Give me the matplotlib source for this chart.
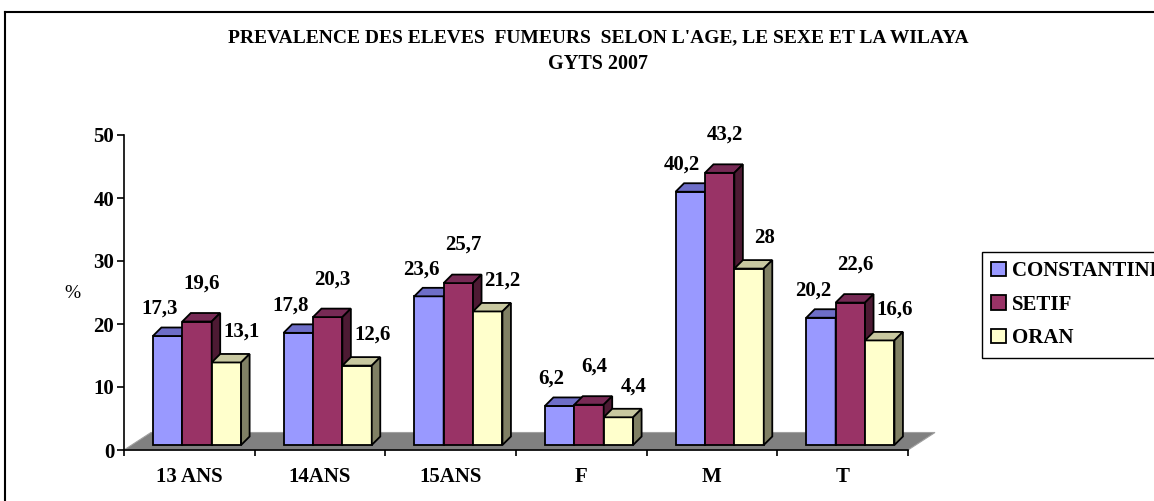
import matplotlib
matplotlib.use("Agg")
import matplotlib.pyplot as plt
from matplotlib.patches import Polygon, Patch
from matplotlib.lines import Line2D

categories = ["13 ANS", "14ANS", "15ANS", "F", "M", "T"]
series_names = ["CONSTANTINE", "SETIF", "ORAN"]
constantine = [17.3, 17.8, 23.6, 6.2, 40.2, 20.2]
setif = [19.6, 20.3, 25.7, 6.4, 43.2, 22.6]
oran = [13.1, 12.6, 21.2, 4.4, 28.0, 16.6]
values = [constantine, setif, oran]

front_colors = ["#9999FF", "#993366", "#FFFFCC"]
top_colors = ["#6E6EC8", "#772A55", "#C8C8A0"]
side_colors = ["#4D4D80", "#4D1A33", "#808064"]
label_offsets = [(-8, 27), (5, 38), (15, 31)]  # pixels, per series

plt.rcParams["font.family"] = ["Liberation Serif", "DejaVu Serif"]
plt.rcParams["font.weight"] = "bold"

W, H = 1154, 501
fig = plt.figure(figsize=(W / 100, H / 100), dpi=100)
ax = fig.add_axes([124 / W, 51 / H, 784 / W, 315 / H])
ax.set_xlim(0, 6)
ax.set_ylim(0, 50)

# pixel -> data unit factors
sx = 6 / 784
sy = 50 / 315

# fake 3d geometry
bar_w = 29.4 * sx
group_left = 21.2 * sx
shift_x = 7.7 * sx
base = 5 * sy
dep_x = 8.5 * sx
dep_y = 8.5 * sy

# floor
floor = Polygon([(0, 0), (27 * sx, 17.5 * sy), (6 + 27 * sx, 17.5 * sy), (6, 0)],
                closed=True, facecolor="#808080", edgecolor="#A0A0A0",
                lw=0.8, clip_on=False, zorder=1)
ax.add_patch(floor)

z = 2
for i in range(len(categories)):
    for j in range(len(series_names)):
        v = values[j][i]
        x0 = i + group_left + shift_x + j * bar_w
        x1 = x0 + bar_w
        y0 = base
        y1 = base + v
        ax.bar(x0, v, width=bar_w, bottom=base, align="edge",
               color=front_colors[j], edgecolor="black", lw=1.3,
               zorder=z, clip_on=False)
        ax.add_patch(Polygon([(x0, y1), (x0 + dep_x, y1 + dep_y),
                              (x1 + dep_x, y1 + dep_y), (x1, y1)],
                             closed=True, facecolor=top_colors[j],
                             edgecolor="black", lw=1.3, zorder=z,
                             clip_on=False))
        ax.add_patch(Polygon([(x1, y0), (x1 + dep_x, y0 + dep_y),
                              (x1 + dep_x, y1 + dep_y), (x1, y1)],
                             closed=True, facecolor=side_colors[j],
                             edgecolor="black", lw=1.3, zorder=z,
                             clip_on=False))
        z += 1
        ox, oy = label_offsets[j]
        ax.annotate(f"{v:g}".replace(".", ","), ((x0 + x1) / 2, y1),
                    xytext=(ox, oy), textcoords="offset pixels",
                    ha="center", va="center", fontsize=15,
                    fontweight="bold", zorder=50, annotation_clip=False)

# axes styling
for s in ["top", "right"]:
    ax.spines[s].set_visible(False)
for s in ["left", "bottom"]:
    ax.spines[s].set_color("black")
    ax.spines[s].set_linewidth(1.2)
    ax.spines[s].set_zorder(60)
ax.patch.set_visible(False)

ax.set_yticks([0, 10, 20, 30, 40, 50])
ax.tick_params(axis="y", direction="out", length=5, width=1.2, pad=2,
               labelsize=15)
ax.set_xticks(range(7))
ax.set_xticklabels([])
ax.set_xticks([i + 0.5 for i in range(6)], minor=True)
ax.set_xticklabels(categories, minor=True)
ax.tick_params(axis="x", which="major", direction="out", length=4,
               width=1.2)
ax.tick_params(axis="x", which="minor", length=0, pad=12, labelsize=15)

fig.text(72 / W, 1 - 293 / H, "%", fontsize=14, fontweight="normal",
         ha="center", va="center")

fig.text(598 / W, 1 - 38 / H,
         "PREVALENCE DES ELEVES  FUMEURS  SELON L'AGE, LE SEXE ET LA WILAYA",
         fontsize=14, fontweight="bold", ha="center", va="center")
fig.text(598 / W, 1 - 64 / H, "GYTS 2007", fontsize=14.5,
         fontweight="bold", ha="center", va="center")

handles = [Patch(facecolor=c, edgecolor="black", lw=1.3) for c in front_colors]
leg = fig.legend(handles, series_names, loc="upper left",
                 bbox_to_anchor=(982 / W, 1 - 252 / H), borderaxespad=0,
                 fontsize=15, frameon=True, fancybox=False,
                 edgecolor="black", framealpha=1, handlelength=0.7,
                 handleheight=0.7, handletextpad=0.3, labelspacing=0.65,
                 borderpad=0.45)
leg.get_frame().set_linewidth(1.0)

# outer chart frame
fig.add_artist(Line2D([5 / W, 1], [1 - 12 / H, 1 - 12 / H],
                      transform=fig.transFigure, color="black", lw=1.5))
fig.add_artist(Line2D([5 / W, 5 / W], [0, 1 - 12 / H],
                      transform=fig.transFigure, color="black", lw=1.5))

fig.savefig("out.png", dpi=100)
